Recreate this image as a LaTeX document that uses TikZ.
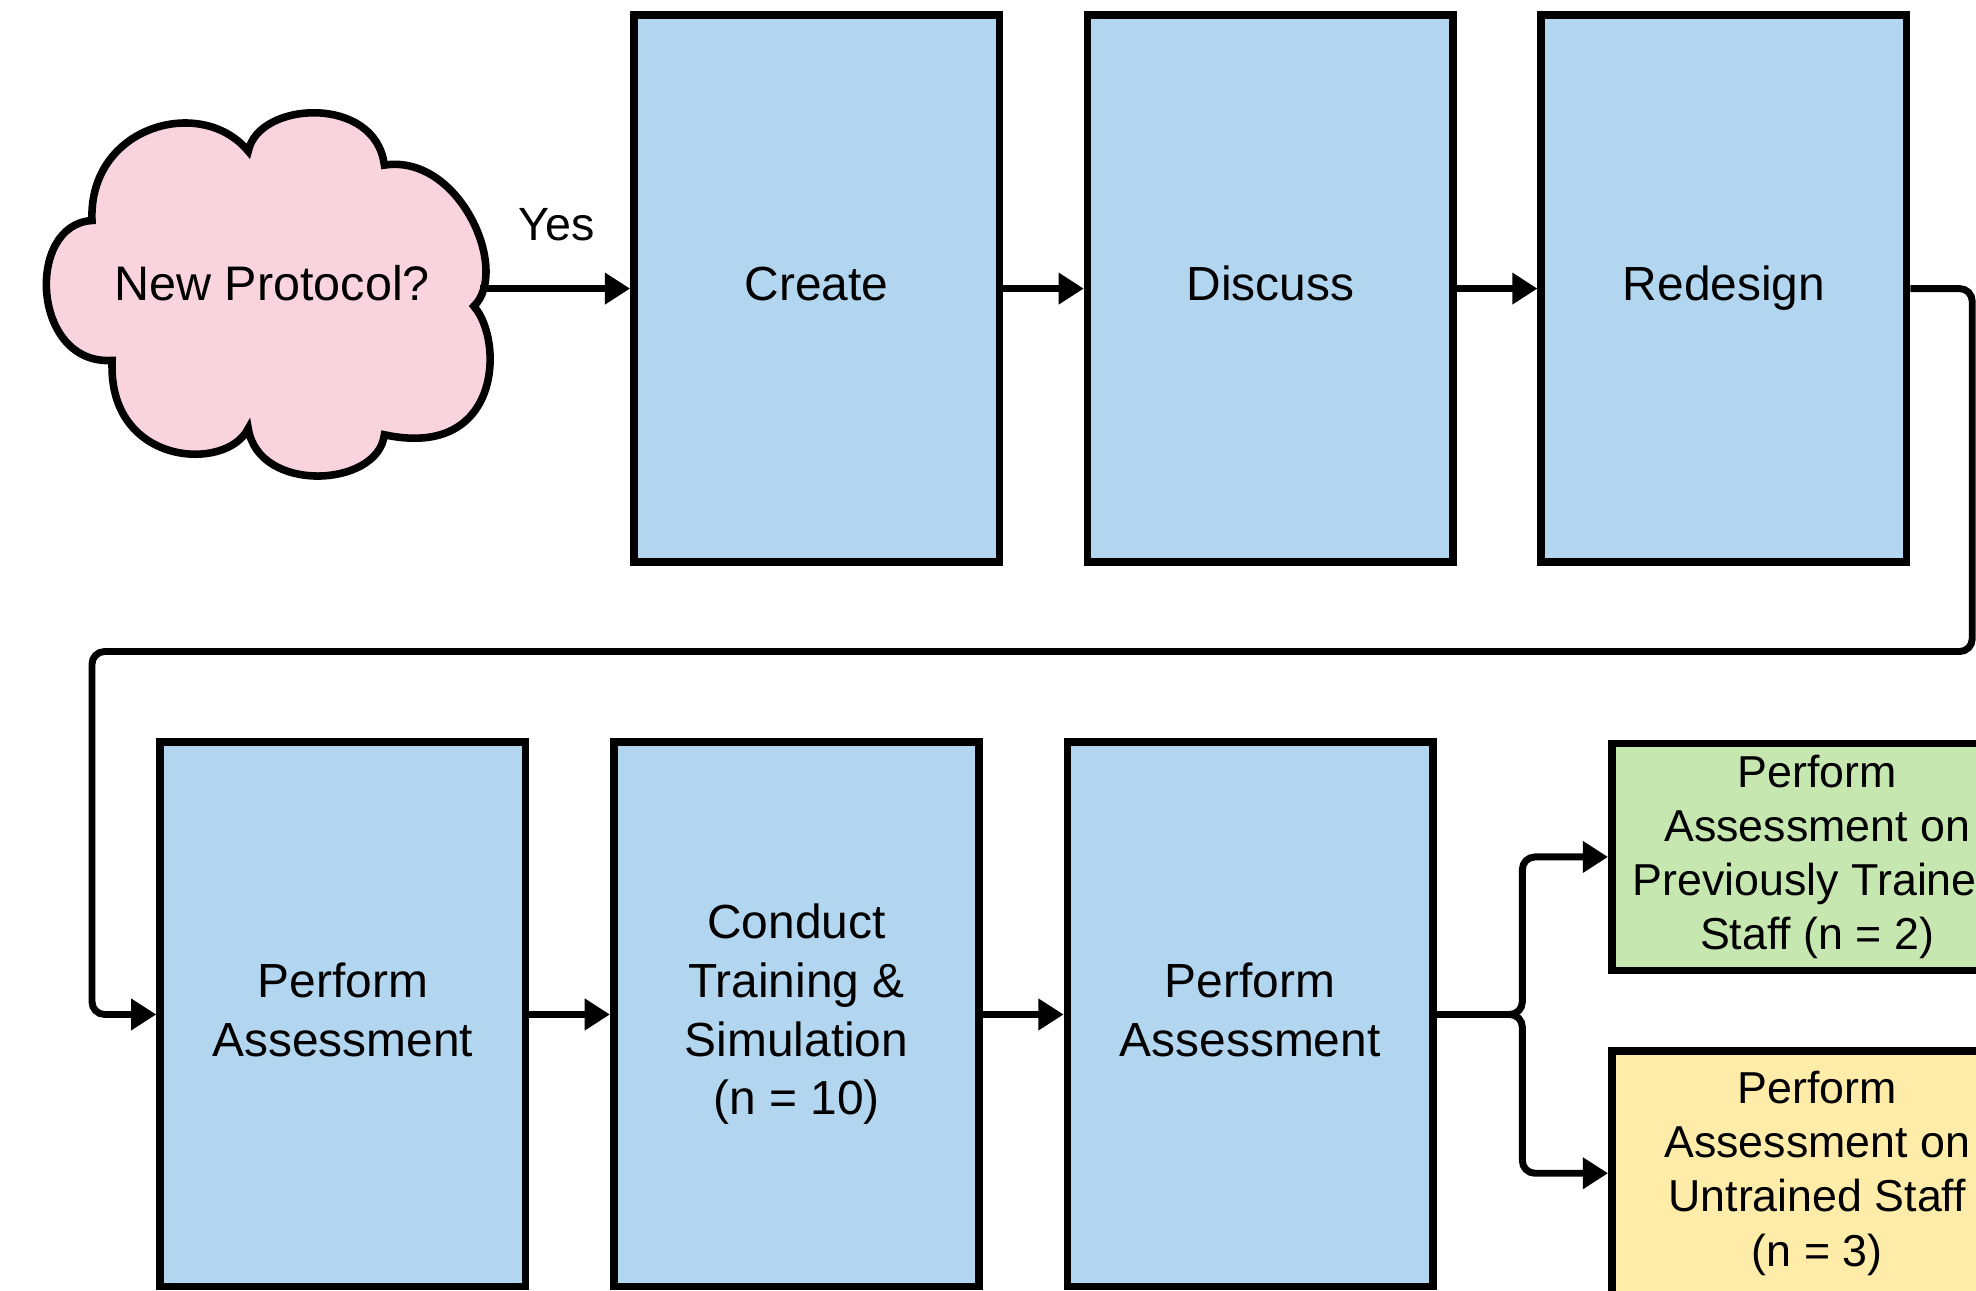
\documentclass[tikz,border=0pt]{standalone}
\usepackage{fontspec}
\setmainfont{Liberation Sans}
\usetikzlibrary{arrows.meta}
\definecolor{boxblue}{HTML}{B3D6F0}
\definecolor{cloudpink}{HTML}{F9D3DE}
\definecolor{boxgreen}{HTML}{C6E8B0}
\definecolor{boxyellow}{HTML}{FFECA8}
\begin{document}
\begin{tikzpicture}[x=1pt,y=-1pt,
  stepbox/.style={draw=black, line width=6pt, fill=boxblue,
    minimum width=290pt, minimum height=434pt, inner sep=0pt,
    text depth=8pt, align=center, font=\fontsize{38}{46.5}\selectfont},
  lowbox/.style={stepbox, minimum height=432pt},
  resultbox/.style={draw=black, line width=6pt, minimum width=326pt,
    inner sep=0pt, align=center, font=\fontsize{35.5}{43}\selectfont},
  conn/.style={line width=5.5pt, rounded corners=10pt,
    -{Triangle[length=20pt,width=24pt]}},
  cloudline/.style={draw=black, line width=6pt, fill=cloudpink}]
\useasboundingbox (0,0) rectangle (1568,1024);
\clip (0,0) rectangle (1568,1024);

% decision cloud
\draw[cloudline] (73,175)
  .. controls (70,100) and (160,75) .. (197,120)
  .. controls (205,80) and (298,75) .. (305,131)
  .. controls (365,122) and (405,215) .. (376,243)
  .. controls (400,270) and (398,365) .. (305,345)
  .. controls (300,387) and (205,392) .. (197,340)
  .. controls (180,375) and (85,370) .. (89,286)
  .. controls (25,290) and (20,178) .. (73,175) -- cycle;
\node[font=\fontsize{38.5}{46.5}\selectfont] (question) at (216,225) {New Protocol?};
\coordinate (qout) at (381,229);
\node[font=\fontsize{37}{44}\selectfont] (yes) at (442,178) {Yes};

% first row
\node[stepbox] (create)   at (648,229)  {Create};
\node[stepbox] (discuss)  at (1008,229) {Discuss};
\node[stepbox] (redesign) at (1368,229) {Redesign};

% second row
\node[lowbox] (assess1)  at (272,805) {Perform\\Assessment};
\node[lowbox] (training) at (632,805) {Conduct\\Training \&\\Simulation\\(n = 10)};
\node[lowbox] (assess2)  at (992,805) {Perform\\Assessment};

% outcome boxes
\node[resultbox, fill=boxgreen, minimum height=180pt] (trained) at (1442,680)
  {Perform\\Assessment on\\Previously Trained\\Staff (n = 2)};
\node[resultbox, fill=boxyellow, minimum height=194pt] (untrained) at (1442,931)
  {Perform\\Assessment on\\Untrained Staff\\(n = 3)};

% connectors
\draw[conn] (qout) -- (qout -| create.west);
\draw[conn] (create.east) -- (discuss.west);
\draw[conn] (discuss.east) -- (redesign.west);

\coordinate (loopR) at (1565,517);
\coordinate (loopL) at (73,517);
\draw[conn] (redesign.east) -| (loopR) -- (loopL) |- (assess1.west);

\draw[conn] (assess1.east) -- (training.west);
\draw[conn] (training.east) -- (assess2.west);

\coordinate (fork) at (1208,805);
\draw[conn] (assess2.east) -- (fork) |- (trained.west);
\draw[conn] (assess2.east) -- (fork) |- (untrained.west);
\end{tikzpicture}
\end{document}
